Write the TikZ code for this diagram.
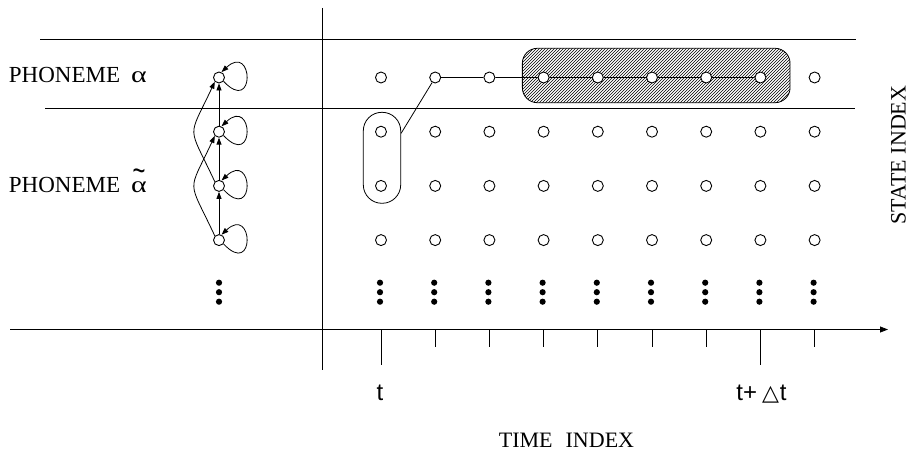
\documentclass[tikz,border=0pt]{standalone}
\usepackage{fontspec}
\setmainfont{Liberation Serif}
\newfontfamily\sansf{Liberation Sans}
\newfontfamily\dejavu{DejaVu Sans}
\usepackage{graphicx}
\usetikzlibrary{arrows.meta,patterns}
\newcommand\myalf{{\fontsize{23}{24}\selectfont\scalebox{1.3}[1]{α}}}
\newcommand\mytalf{\rlap{\hspace{1.5pt}\raisebox{11pt}{\sansf\fontsize{20}{20}\selectfont\scalebox{1.1}[1.6]{\char"7E}}}\myalf}
\begin{document}
\begin{tikzpicture}[x=1pt,y=1pt,line width=0.8pt,
  st/.style={circle,draw,fill=white,inner sep=0pt,minimum size=11pt,line width=0.9pt},
  arr/.style={-{Triangle[length=7pt,width=5pt]}},
  axarr/.style={-{Triangle[length=8pt,width=6pt]}},
  lbl/.style={inner sep=0pt,font=\fontsize{22}{26}\selectfont},
  plbl/.style={inner sep=0pt,font=\fontsize{23}{26}\selectfont},
  slbl/.style={inner sep=0pt,font=\sansf\fontsize{24}{26}\selectfont}]
\useasboundingbox (0,0) rectangle (909,453);
% hatched box
\node[draw,rounded corners=15pt,pattern=north east lines,minimum width=267.7pt,minimum height=54.4pt,inner sep=0pt] (hb) at (656.2,377.5) {};
% oval
\node[draw,rounded corners=18.5pt,minimum width=37.4pt,minimum height=91pt,inner sep=0pt] (ov) at (382,295.2) {};
% grid lines
\coordinate (l1a) at (40,414); \coordinate (l1b) at (856,414);
\coordinate (l2a) at (45,345); \coordinate (l2b) at (855,345);
\draw (l1a) -- (l1b);
\draw (l2a) -- (l2b);
\coordinate (vy0) at (322,445); \coordinate (vy1) at (322,83);
\draw (vy0) -- (vy1);
\coordinate (ax0) at (10,123.5); \coordinate (ax1) at (888,123.5);
\draw[axarr] (ax0) -- (ax1);
% ticks
\foreach \i in {0,...,8} {
  \coordinate (tk\i) at ({381+54.2*\i},123.5);
  \ifnum\i=0 \coordinate (te\i) at ({381+54.2*\i},88);
  \else\ifnum\i=7 \coordinate (te\i) at ({381+54.2*\i},88);
  \else \coordinate (te\i) at ({381+54.2*\i},106); \fi\fi
  \draw (tk\i) -- (te\i);
}
% grid nodes
\foreach \i in {0,...,8} {
  \foreach \j in {1,...,4} {
    \node[st] (g\i\j) at ({381+54.2*\i},{429.7-54.2*\j}) {};
  }
  \foreach \yy in {170.3,160.8,151.3} \fill ({380+54.2*\i},\yy) circle (3.1);
}
% left model
\foreach \j in {1,...,4} \node[st] (h\j) at (219,{429.7-54.2*\j}) {};
\foreach \yy in {170.3,160.8,151.3} \fill (219,\yy) circle (3.1);
\foreach \j in {1,...,4} \draw[arr] (h\j.-40) .. controls +(32,-34) and +(32,30) .. (h\j.65);
\draw[arr] (h2) -- (h1);
\draw[arr] (h3) -- (h2);
\draw[arr] (h4) -- (h3);
\draw[arr] (h3.135) .. controls +(115:65) and +(245:65) .. (h1.225);
\draw[arr] (h4.135) .. controls +(115:65) and +(245:65) .. (h2.225);
% path
\coordinate (ovc) at ([yshift=24.5pt]ov.east);
\draw (ovc) -- (g11) -- (g21) -- (g31) -- (g41) -- (g51) -- (g61) -- (g71);
% labels
\node[plbl,anchor=base west] (ph1) at (8.5,370.3) {PHONEME\hspace{11pt}\myalf};
\node[plbl,anchor=base west] (ph2) at (8.5,260.7) {PHONEME\hspace{11pt}\mytalf};
\node[slbl,anchor=base] (tl) at (380,53) {t};
\node[slbl,anchor=base] (tdl) at (761.5,53) {t+\hspace{5pt}{\dejavu\fontsize{22}{26}\selectfont △}\hspace{1pt}t};
\node[lbl,anchor=base] (xl) at (566.5,5.3) {TIME\hspace{13pt}INDEX};
\node[lbl,anchor=base,rotate=90] (yl) at (905.5,298) {STATE\hspace{6pt}INDEX};
\end{tikzpicture}
\end{document}
